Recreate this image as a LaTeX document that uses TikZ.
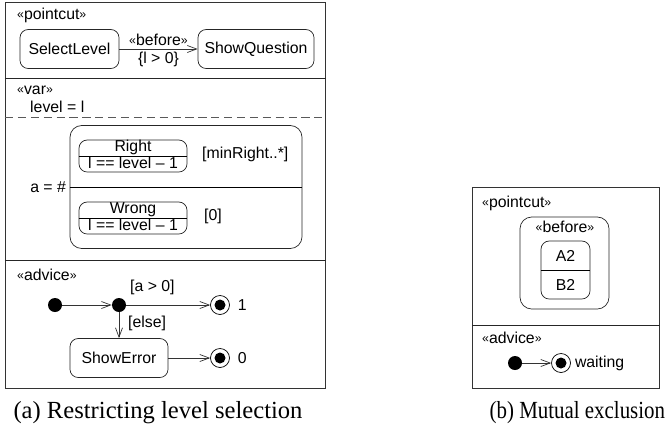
\documentclass[tikz,border=0pt]{standalone}
\usepackage{fontspec}
\setmainfont{Liberation Sans}
\newfontfamily\captionfont{Liberation Serif}
\newfontfamily\narrowcaptionfont[FakeStretch=0.85]{Liberation Serif}
\usetikzlibrary{arrows.meta}

\begin{document}
\begin{tikzpicture}[font=\fontsize{13.5}{16}\selectfont]
    \newcommand{\stereotype}[1]{\raisebox{0.6pt}{\fontsize{10.5}{12}\selectfont«}#1\raisebox{0.6pt}{\fontsize{10.5}{12}\selectfont»}}
    \tikzstyle{frame}=[draw=black!80, line width=0.9pt, inner sep=0pt, anchor=north west]
    \tikzstyle{sep}=[draw=black!85, line width=0.8pt]
    \tikzstyle{dedge}=[line width=0.6pt, ->, >={Straight Barb[length=8pt,width=6pt]}, draw=black!80]
    \tikzstyle{state}=[
      draw=black!85,
      line width=0.6pt,
      rounded corners=7pt,
      inner sep=0pt,
      anchor=center,
    ]
    \tikzstyle{stereo}=[inner sep=0pt, anchor=west]
    \tikzstyle{initial}=[circle, fill=black, inner sep=0pt, minimum size=0.42cm]
    \tikzstyle{final}=[
      circle,
      draw=black,
      line width=0.6pt,
      inner sep=0pt,
      minimum size=0.57cm,
      path picture={\fill[black] (path picture bounding box.center) circle (0.165cm);},
    ]
    \tikzstyle{caption}=[font=\captionfont\fontsize{21}{24}\selectfont]

    \useasboundingbox (0,0) rectangle (20.04,-12.81);
    \coordinate (leftAnchor) at (0.15,-0.06);
    \coordinate (rightAnchor) at (14.16,-5.61);

    % restricting level selection
    {
      \node[frame, minimum width=9.6cm, minimum height=11.58cm] (leftFrame) at (leftAnchor) {};

      % pointcut
      \node[stereo] (pcLabel) at ([xshift=0.36cm, yshift=-0.39cm] leftAnchor) {\stereotype{pointcut}};
      \node[state, minimum width=2.97cm, minimum height=1.17cm] (selectLevel) at ([xshift=1.935cm, yshift=-1.41cm] leftAnchor) {SelectLevel};
      \node[state, minimum width=3.48cm, minimum height=1.17cm] (showQuestion) at ([xshift=7.53cm, yshift=-1.41cm] leftAnchor) {ShowQuestion};
      \draw[dedge] (selectLevel)--(showQuestion)
        node[midway, above, inner sep=2.5pt] (beforeLabel) {\stereotype{before}}
        node[midway, below, inner sep=2.5pt] (beforeGuard) {\{l > 0\}};

      % var
      \draw[sep] ([yshift=-2.28cm] leftFrame.north west)--([yshift=-2.28cm] leftFrame.north east);
      \node[stereo] (varLabel) at ([xshift=0.36cm, yshift=-2.64cm] leftAnchor) {\stereotype{var}};
      \node[stereo] (levelVar) at ([xshift=0.75cm, yshift=-3.15cm] leftAnchor) {level = l};
      \draw[sep, draw=black!65, line width=0.7pt, dash pattern=on 7pt off 4pt] ([yshift=-3.45cm] leftFrame.north west)--([yshift=-3.45cm] leftFrame.north east);

      \node[state, rounded corners=10pt, minimum width=6.96cm, minimum height=3.69cm] (countBox) at ([xshift=5.43cm, yshift=-5.55cm] leftAnchor) {};
      \draw[line width=0.6pt] (countBox.west)--(countBox.east);
      \node[anchor=east, inner sep=3pt] (countLabel) at (countBox.west) {a = \#};

      \node[state, minimum width=3.24cm, minimum height=0.96cm] (rightState) at ([xshift=3.84cm, yshift=-4.62cm] leftAnchor) {};
      \draw[line width=0.6pt] (rightState.west)--(rightState.east);
      \node (rightName) at ([yshift=0.26cm] rightState.center) {Right};
      \node (rightGuard) at ([yshift=-0.22cm] rightState.center) {l == level – 1};
      \node[stereo] (rightMult) at ([xshift=5.91cm, yshift=-4.56cm] leftAnchor) {[minRight..*]};

      \node[state, minimum width=3.24cm, minimum height=0.96cm] (wrongState) at ([xshift=3.84cm, yshift=-6.48cm] leftAnchor) {};
      \draw[line width=0.6pt] (wrongState.west)--(wrongState.east);
      \node (wrongName) at ([yshift=0.26cm] wrongState.center) {Wrong};
      \node (wrongGuard) at ([yshift=-0.22cm] wrongState.center) {l == level – 1};
      \node[stereo] (wrongMult) at ([xshift=5.97cm, yshift=-6.42cm] leftAnchor) {[0]};

      % advice
      \draw[sep] ([yshift=-7.74cm] leftFrame.north west)--([yshift=-7.74cm] leftFrame.north east);
      \node[stereo] (adviceLabel) at ([xshift=0.36cm, yshift=-8.19cm] leftAnchor) {\stereotype{advice}};
      \node[initial] (start) at ([xshift=1.5cm, yshift=-9.09cm] leftAnchor) {};
      \node[initial] (choice) at ([xshift=3.42cm, yshift=-9.09cm] leftAnchor) {};
      \node[final, label={[name=successLabel, label distance=0.12cm]right:1}] (success) at ([xshift=6.45cm, yshift=-9.09cm] leftAnchor) {};
      \node[state, minimum width=2.94cm, minimum height=1.17cm] (showError) at ([xshift=3.42cm, yshift=-10.68cm] leftAnchor) {ShowError};
      \node[final, label={[name=failureLabel, label distance=0.12cm]right:0}] (failure) at ([xshift=6.45cm, yshift=-10.68cm] leftAnchor) {};
      \node[stereo] (okGuard) at ([xshift=0.33cm, yshift=0.54cm] choice) {[a > 0]};
      \node[stereo] (elseGuard) at ([xshift=0.27cm, yshift=-0.54cm] choice) {[else]};

      \draw[dedge] (start)--(choice);
      \draw[dedge] (choice)--(success);
      \draw[dedge] (choice)--(showError);
      \draw[dedge] (showError)--(failure);

      \node[caption] (captionA) at ([xshift=4.59cm, yshift=-12.33cm] leftAnchor) {(a) Restricting level selection};
    }

    % mutual exclusion
    {
      \node[frame, minimum width=5.61cm, minimum height=6.03cm] (rightFrame) at (rightAnchor) {};

      % pointcut
      \node[stereo] (pcLabelB) at ([xshift=0.3cm, yshift=-0.48cm] rightAnchor) {\stereotype{pointcut}};
      \node[state, rounded corners=10pt, minimum width=2.67cm, minimum height=2.76cm] (beforeBox) at ([xshift=2.775cm, yshift=-2.28cm] rightAnchor) {};
      \node (beforeLabelB) at ([xshift=2.79cm, yshift=-1.2cm] rightAnchor) {\stereotype{before}};
      \node[state, minimum width=1.47cm, minimum height=1.74cm] (pairState) at ([xshift=2.805cm, yshift=-2.49cm] rightAnchor) {};
      \draw[line width=0.6pt] (pairState.west)--(pairState.east);
      \node (aTwo) at ([yshift=0.435cm] pairState.center) {A2};
      \node (bTwo) at ([yshift=-0.435cm] pairState.center) {B2};

      % advice
      \draw[sep] ([yshift=-4.14cm] rightFrame.north west)--([yshift=-4.14cm] rightFrame.north east);
      \node[stereo] (adviceLabelB) at ([xshift=0.3cm, yshift=-4.53cm] rightAnchor) {\stereotype{advice}};
      \node[initial] (startB) at ([xshift=1.29cm, yshift=-5.28cm] rightAnchor) {};
      \node[final, label={[name=waitLabel, label distance=0cm]right:waiting}] (waiting) at ([xshift=2.67cm, yshift=-5.28cm] rightAnchor) {};
      \draw[dedge] (startB)--(waiting);

      \node[caption, font=\narrowcaptionfont\fontsize{21}{24}\selectfont, anchor=east, inner sep=0pt] (captionB) at ([xshift=5.8cm, yshift=-6.78cm] rightAnchor) {(b) Mutual exclusion};
    }
  \end{tikzpicture}
\end{document}
